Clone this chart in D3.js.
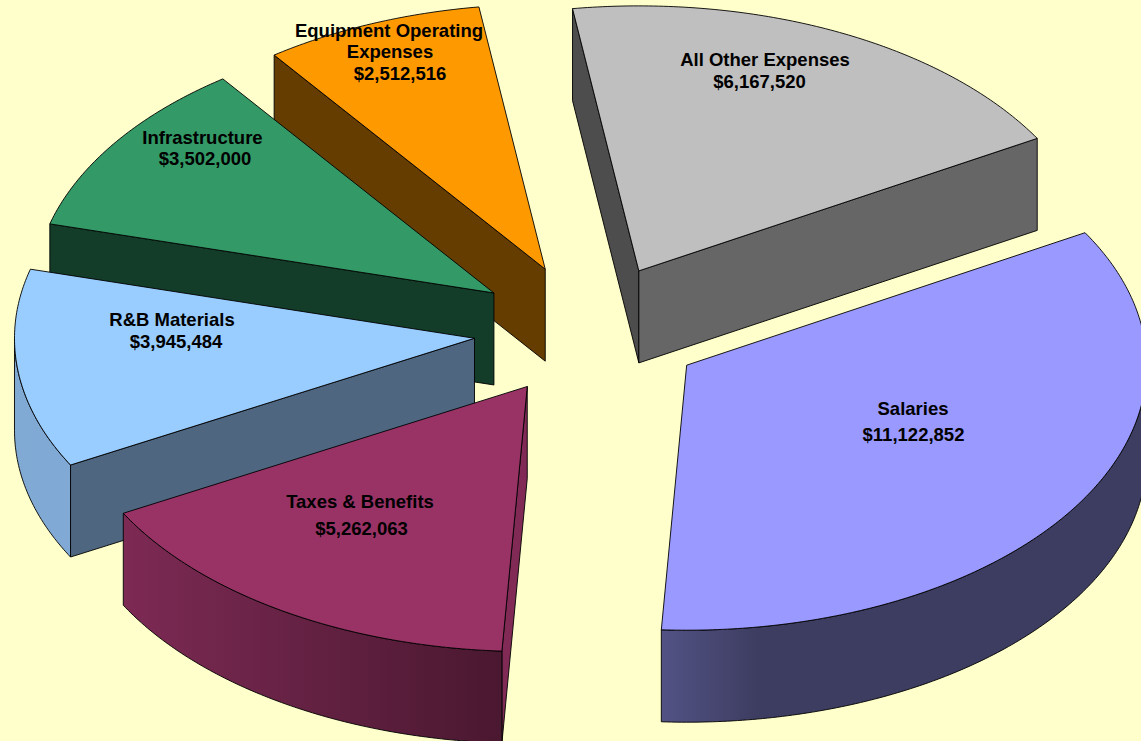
<!DOCTYPE html>
<html>
<head>
<meta charset="utf-8">
<script src="https://cdn.jsdelivr.net/npm/d3@7"></script>
<style>
  html, body { margin: 0; padding: 0; background: #FFFFCC; overflow: hidden; }
  svg { display: block; }
  text { font-family: "Liberation Sans", Arial, sans-serif; font-weight: bold; font-size: 18.5px; fill: #000; }
</style>
</head>
<body>
<svg id="chart"></svg>
<script>
// DATA ////////////////////////////////////////////////////////////////////
var categories = ['Salaries', 'Taxes & Benefits', 'R&B Materials', 'Infrastructure', 'Equipment Operating Expenses', 'All Other Expenses'];
var amounts = [11122852, 5262063, 3945484, 3502000, 2512516, 6167520];

// COLOURS /////////////////////////////////////////////////////////////////
var top_colours = ['#9999FF', '#993366', '#99CCFF', '#339966', '#FF9900', '#BFBFBF'];
var start_wall_colours = ['#3D3D66', '#802A55', '#4E6680', '#143D29', '#663D00', '#4D4D4D'];
var end_wall_colours = ['#3D3D66', '#802A55', '#4E6680', '#143D29', '#663D00', '#666666'];
var rim_left_colours = ['#525285', '#7D2A54', '#80A9D4', '#143D29', '#663D00', '#666666'];
var rim_right_colours = ['#3D3D61', '#4A1830', '#80AAD5', '#143D29', '#663D00', '#666666'];

// label lines, placed by hand: [category index, text lines with x and baseline]
var label_layout = [
    [[913, 415], [913.5, 441]],
    [[360, 508], [361.5, 535]],
    [[172, 326], [176, 348]],
    [[202.5, 144], [205, 165]],
    [[389, 37], [390, 58], [400, 80]],
    [[765, 66], [759.5, 88]]
];
var label_lines = [
    ['Salaries'],
    ['Taxes & Benefits'],
    ['R&B Materials'],
    ['Infrastructure'],
    ['Equipment Operating', 'Expenses'],
    ['All Other Expenses']
];

// SETUP ///////////////////////////////////////////////////////////////////
const WIDTH = 1141, HEIGHT = 741;
const CX = 588.7, CY = 330.5;  // pie centre
const RX = 460, RY = 265;      // ellipse of the tilted top face
const DEPTH = 92;              // thickness of the pie
const EXPLODE = 0.25;          // share of radius each slice is pulled out
const START = 60 * Math.PI / 180;
const STROKE = '#000';

var money = d3.format('$,');

var svg = d3.select('#chart').attr('width', WIDTH).attr('height', HEIGHT);
var defs = svg.append('defs');

var pie = d3.pie().sort(null).startAngle(START).endAngle(START + 2 * Math.PI);
var arcs = pie(amounts);

var line = d3.line().x(function (d) { return d[0]; }).y(function (d) { return d[1]; });

// project an angle and a radius share onto the screen
function project(angle, r) {
    return [RX * r * Math.sin(angle), -RY * r * Math.cos(angle)];
}

function arcPoints(a0, a1, ox, oy) {
    var n = Math.max(2, Math.ceil((a1 - a0) * 90));
    return d3.range(n + 1).map(function (i) {
        var p = project(a0 + (a1 - a0) * i / n, 1);
        return [p[0] + ox, p[1] + oy];
    });
}

function drawSlice(d, i) {
    var mid = (d.startAngle + d.endAngle) / 2;
    var off = project(mid, EXPLODE);
    var ox = CX + off[0], oy = CY + off[1];
    var g = svg.append('g').attr('class', 'slice');

    function wall(angle, colour) {
        var p = project(angle, 1);
        var pts = [[ox, oy], [ox + p[0], oy + p[1]], [ox + p[0], oy + p[1] + DEPTH], [ox, oy + DEPTH]];
        g.append('path').attr('d', line(pts) + 'Z')
            .attr('fill', colour).attr('stroke', STROKE).attr('stroke-width', 0.9).attr('stroke-linejoin', 'round');
    }

    // walls that face the viewer
    if (Math.sin(d.startAngle) < 0) wall(d.startAngle, start_wall_colours[i]);
    if (Math.sin(d.endAngle) > 0) wall(d.endAngle, end_wall_colours[i]);

    // outer rim, only the front half of the ellipse shows
    var a0 = Math.max(d.startAngle, Math.PI / 2);
    var a1 = Math.min(d.endAngle, 3 * Math.PI / 2);
    if (a1 > a0) {
        var upper = arcPoints(a0, a1, ox, oy);
        var lower = arcPoints(a0, a1, ox, oy + DEPTH).reverse();
        var xs = d3.extent(upper, function (p) { return p[0]; });
        var id = 'rim' + i;
        var grad = defs.append('linearGradient').attr('id', id)
            .attr('gradientUnits', 'userSpaceOnUse')
            .attr('x1', xs[0]).attr('x2', xs[1]).attr('y1', 0).attr('y2', 0);
        grad.append('stop').attr('offset', 0).attr('stop-color', rim_left_colours[i]);
        grad.append('stop').attr('offset', i === 0 ? 0.2 : 1).attr('stop-color', rim_right_colours[i]);
        g.append('path').attr('d', line(upper.concat(lower)) + 'Z')
            .attr('fill', 'url(#' + id + ')').attr('stroke', STROKE).attr('stroke-width', 0.9).attr('stroke-linejoin', 'round');
    }

    // top face
    var rim = arcPoints(d.startAngle, d.endAngle, ox, oy);
    g.append('path').attr('d', line([[ox, oy]].concat(rim)) + 'Z')
        .attr('fill', top_colours[i]).attr('stroke', STROKE).attr('stroke-width', 0.9).attr('stroke-linejoin', 'round');
}

// back slices first, Salaries ends up on top
d3.range(arcs.length - 1, -1, -1).forEach(function (i) { drawSlice(arcs[i], i); });

// LABELS //////////////////////////////////////////////////////////////////
categories.forEach(function (c, i) {
    var lines = label_lines[i].concat([money(amounts[i])]);
    var spots = label_layout[i];
    svg.append('g').attr('class', 'label').selectAll('text')
        .data(lines)
        .enter()
        .append('text')
        .attr('text-anchor', 'middle')
        .attr('x', function (t, j) { return spots[j][0]; })
        .attr('y', function (t, j) { return spots[j][1]; })
        .text(function (t) { return t; });
});
</script>
</body>
</html>
